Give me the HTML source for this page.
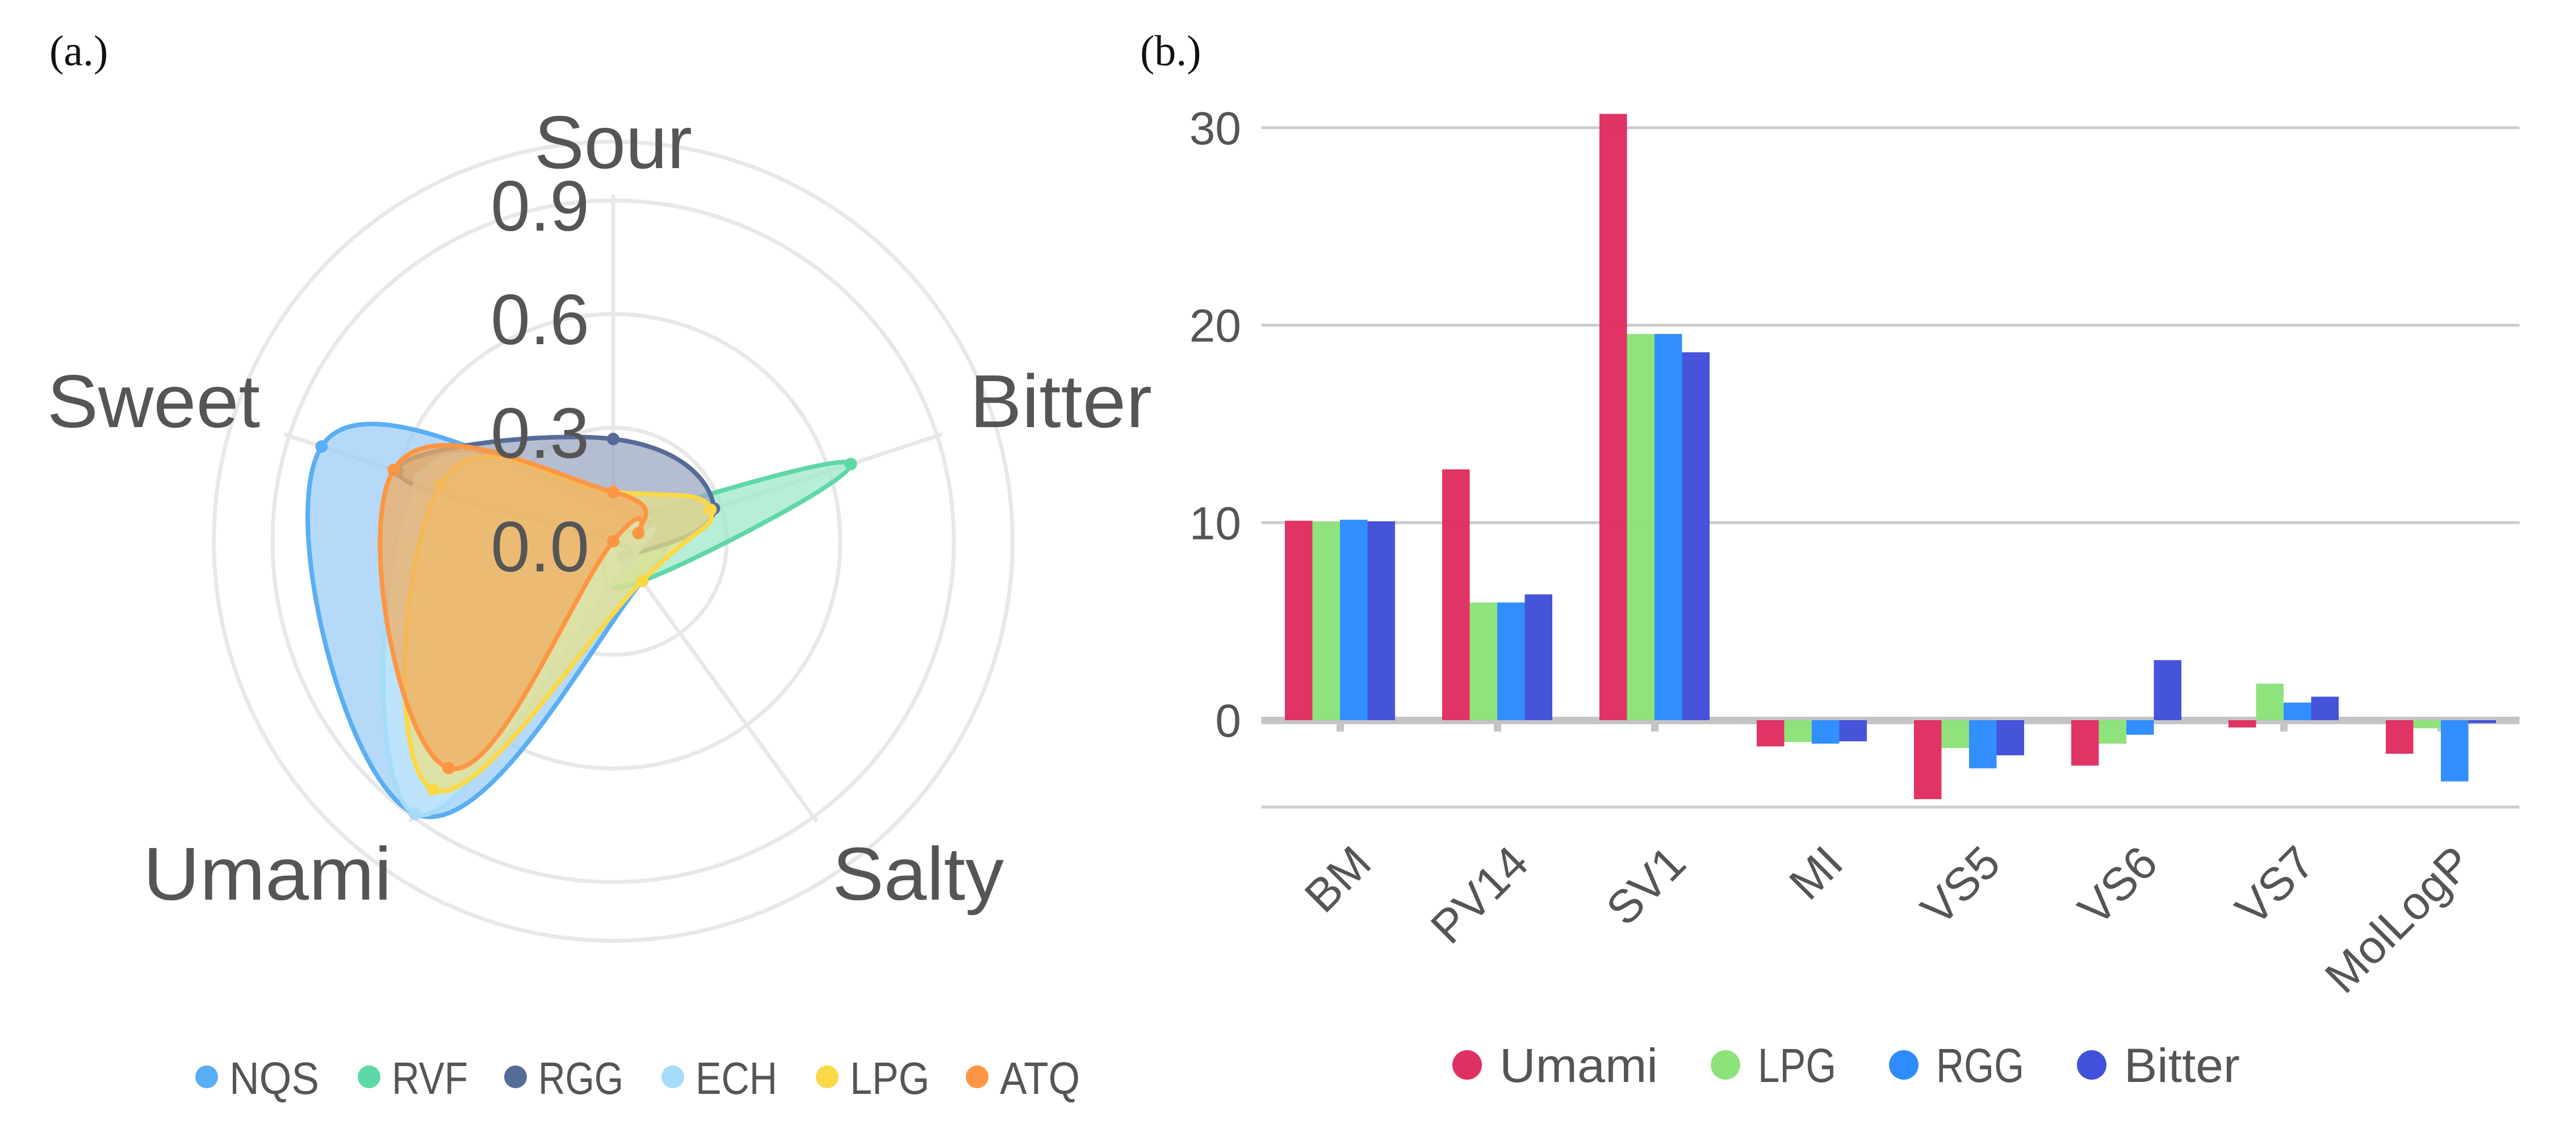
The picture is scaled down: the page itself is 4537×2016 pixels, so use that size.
<!DOCTYPE html>
<html><head><meta charset="utf-8">
<style>
html,body{margin:0;padding:0;background:#fff;}
svg{display:block;}
text{font-family:"Liberation Sans","DejaVu Sans",sans-serif;fill:#555;}
</style></head>
<body>
<svg id="root" xmlns="http://www.w3.org/2000/svg" width="4537" height="2016" viewBox="0 0 4537 2016">
  <rect x="0" y="0" width="4537" height="2016" fill="#fff"/>
  <text x="87" y="115" style="font-family:'Liberation Serif',serif;font-size:76px;fill:#111">(a.)</text>
  <text x="2008" y="115" style="font-family:'Liberation Serif',serif;font-size:76px;fill:#111">(b.)</text>
  <g id="radar"></g>
  <g id="bars"></g>
</svg>
<script>
// ---- Radar data ----
const radarAxes = ["Sour", "Bitter", "Salty", "Umami", "Sweet"];
const radarTicks = ["0.0", "0.3", "0.6", "0.9"];
const seriesNames = ["NQS", "RVF", "RGG", "ECH", "LPG", "ATQ"];
const nqsValues = [0.10, 0.10, 0.13, 0.89, 0.81];
const rvfValues = [0.05, 0.66, 0.13, 0.05, 0.05];
const rggValues = [0.27, 0.28, 0.05, 0.00, 0.60];
const echValues = [0.07, 0.07, 0.07, 0.89, 0.54];
const lpgValues = [0.13, 0.27, 0.13, 0.81, 0.48];
const atqValues = [0.13, 0.07, 0.00, 0.74, 0.61];

// ---- Bar data ----
const barCategories = ["BM", "PV14", "SV1", "MI", "VS5", "VS6", "VS7", "MolLogP"];
const barSeriesNames = ["Umami", "LPG", "RGG", "Bitter"];
const umamiBars = [10.1, 12.7, 30.7, -1.33, -4.0, -2.3, -0.37, -1.7];
const lpgBars = [10.05, 5.96, 19.56, -1.11, -1.41, -1.19, 1.85, -0.41];
const rggBars = [10.15, 5.96, 19.56, -1.19, -2.44, -0.74, 0.89, -3.1];
const bitterBars = [10.07, 6.37, 18.63, -1.07, -1.78, 3.04, 1.19, -0.15];
const barTicks = [0, 10, 20, 30];

const NS = "http://www.w3.org/2000/svg";
function mk(tag, attrs, parent) {
  const e = document.createElementNS(NS, tag);
  for (const k in attrs) e.setAttribute(k, attrs[k]);
  parent.appendChild(e);
  return e;
}

// ===== Radar =====
(function () {
  const g = document.getElementById("radar");
  const cx = 1080, cy = 953, unit = 200 / 0.3;
  const rScale = v => v * unit;
  const ang = i => (-90 + i * 72) * Math.PI / 180;
  const pt = (i, v) => [cx + rScale(v) * Math.cos(ang(i)), cy + rScale(v) * Math.sin(ang(i))];
  [0.3, 0.6, 0.9, 1.055].forEach(v => {
    const c = mk("circle", { cx: cx, cy: cy, r: rScale(v), fill: "none", stroke: "#e8e8e8", "stroke-width": 7 }, g);
    
    
  });
  radarAxes.forEach((a, i) => {
    const p = pt(i, 0.915);
    const l = mk("line", { x1: cx, y1: cy, x2: p[0], y2: p[1], stroke: "#e8e8e8", "stroke-width": 7 }, g);
    
    
  });
  const colors = ["#5aaef3", "#5fd8a8", "#566c98", "#a5dcf9", "#fbd846", "#fd9644"];
  const fills = ["#9ccdf7", "#9fe8cb", "#9ca7c1", "#bfe6fb", "#e8e08a", "#f0ad62"];
  const allVals = [nqsValues, rvfValues, rggValues, echValues, lpgValues, atqValues];
  function smoothPath(pts) {
    const n = pts.length; let d = "M" + pts[0][0] + "," + pts[0][1];
    const t = 0.22;
    for (let i = 0; i < n; i++) {
      const p0 = pts[(i - 1 + n) % n], p1 = pts[i], p2 = pts[(i + 1) % n], p3 = pts[(i + 2) % n];
      const c1 = [p1[0] + (p2[0] - p0[0]) * t, p1[1] + (p2[1] - p0[1]) * t];
      const c2 = [p2[0] - (p3[0] - p1[0]) * t, p2[1] - (p3[1] - p1[1]) * t];
      d += " C" + c1[0] + "," + c1[1] + " " + c2[0] + "," + c2[1] + " " + p2[0] + "," + p2[1];
    }
    return d + " Z";
  }
  allVals.forEach((vals, s) => {
    const pts = vals.map((v, i) => pt(i, v));
    const p = mk("path", { d: smoothPath(pts), fill: fills[s], "fill-opacity": 0.75, stroke: colors[s], "stroke-width": 8, "stroke-linejoin": "round" }, g);
    
    
    pts.forEach(q => {
      const c = mk("circle", { cx: q[0], cy: q[1], r: 11, fill: colors[s] }, g);
      
      
    });
  });
  radarTicks.forEach((t, k) => {
    const tx = mk("text", { x: 1038, y: 1006 - 200 * k, "text-anchor": "end", "font-size": 125 }, g);
    tx.textContent = t;
    
    
  });
  const labelPos = [[941, 296, 278], [1708, 752, 321], [1466, 1584, 302], [252, 1584, 438], [83, 752, 375]];
  radarAxes.forEach((a, i) => {
    const tx = mk("text", { x: labelPos[i][0], y: labelPos[i][1], "font-size": 132, textLength: labelPos[i][2], lengthAdjust: "spacingAndGlyphs" }, g);
    tx.textContent = a;
    
    
  });
  const legX = [364, 650, 908, 1185, 1457, 1721];
  const legW = [158, 134, 150, 144, 140, 141];
  seriesNames.forEach((n, s) => {
    const c = mk("circle", { cx: legX[s], cy: 1896, r: 20, fill: colors[s] }, g);
    
    
    const tx = mk("text", { x: legX[s] + 40, y: 1926, "font-size": 80, textLength: legW[s], lengthAdjust: "spacingAndGlyphs" }, g);
    tx.textContent = n;
    
    
  });
})();

// ===== Bars =====
(function () {
  const g = document.getElementById("bars");
  const left = 2221.5, right = 4437.5, y0 = 1268, pxPerUnit = 34.77;
  const band = (right - left) / barCategories.length;
  const y = v => y0 - v * pxPerUnit;
  const xc = i => left + band * (i + 0.5);
  const bw = 48.5;
  barTicks.forEach(t => {
    if (t !== 0) {
      const l = mk("line", { x1: left, x2: right, y1: y(t), y2: y(t), stroke: "#cccccc", "stroke-width": 5 }, g);
      
      
    }
    const tx = mk("text", { x: 2186, y: y(t) + 29, "text-anchor": "end", "font-size": 82 }, g);
    tx.textContent = t;
    
    
  });
  const bl = mk("line", { x1: left, x2: right, y1: 1421, y2: 1421, stroke: "#cccccc", "stroke-width": 5 }, g);
  
  
  barCategories.forEach((c, i) => {
    const t = mk("rect", { x: xc(i) - 6, y: y0, width: 13, height: 20, fill: "#c4c4c4" }, g);
    
    
  });
  const ax = mk("rect", { x: left, y: y0 - 6, width: right - left, height: 13, fill: "#c4c4c4" }, g);
  
  
  const colors = ["#df3062", "#8de27a", "#2f8cff", "#4251d9"];
  const series = [umamiBars, lpgBars, rggBars, bitterBars];
  series.forEach((vals, s) => {
    vals.forEach((v, i) => {
      const x = xc(i) - 2 * bw + s * bw;
      const top = Math.min(y(v), y0), h = Math.abs(y(v) - y0);
      const r = mk("rect", { x: x, y: top, width: bw, height: Math.max(h, 1), fill: colors[s], "fill-opacity": 0.98 }, g);
      
      
    });
  });
  barCategories.forEach((c, i) => {
    const tx = mk("text", { transform: "translate(" + (xc(i) + 40) + ",1505) rotate(-45)", "text-anchor": "end", "dominant-baseline": "central", "font-size": 82 }, g);
    tx.textContent = c;
    
    
  });
  const legDot = [2584, 3039, 3353, 3684];
  const legW = [279, 138, 155, 204];
  barSeriesNames.forEach((n, s) => {
    const c = mk("circle", { cx: legDot[s], cy: 1875, r: 26, fill: colors[s] }, g);
    
    
    const tx = mk("text", { x: legDot[s] + 57, y: 1905, "font-size": 84, textLength: legW[s], lengthAdjust: "spacingAndGlyphs" }, g);
    tx.textContent = n;
    
    
  });
})();
</script>
</body></html>
